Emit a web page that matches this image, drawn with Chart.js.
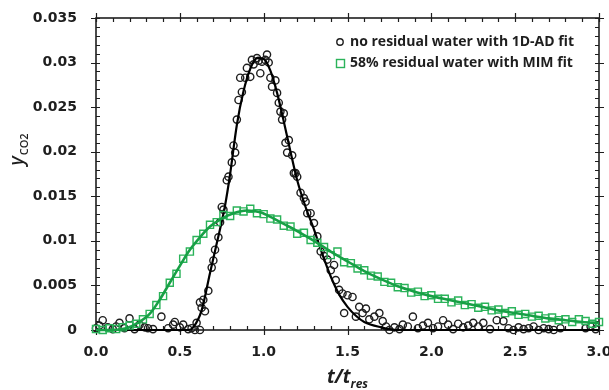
<!DOCTYPE html>
<html>
<head>
<meta charset="utf-8">
<script src="https://cdn.jsdelivr.net/npm/chart.js@4/dist/chart.umd.min.js"></script>
<style>
  html, body { margin: 0; padding: 0; background: #fff; }
  #wrap { width: 609px; height: 390px; }
</style>
</head>
<body>
<div id="wrap"><canvas id="chart" width="609" height="390"></canvas></div>
<script>
// ticks
var xTicks = [0, 0.5, 1.0, 1.5, 2.0, 2.5, 3.0];
var yTicks = [0, 0.005, 0.01, 0.015, 0.02, 0.025, 0.03, 0.035];

// no residual water, measured points (black circles)
var dryT = [0.00, 0.02, 0.04, 0.07, 0.10, 0.12, 0.14, 0.17, 0.20, 0.23, 0.26, 0.29, 0.31, 0.34, 0.39, 0.43,
  0.46, 0.47, 0.50, 0.52, 0.55, 0.57, 0.59, 0.60, 0.62, 0.62, 0.63, 0.64, 0.65, 0.67, 0.69, 0.70, 0.71,
  0.73, 0.74, 0.75, 0.76, 0.78, 0.79, 0.81, 0.82, 0.83, 0.84, 0.85, 0.86, 0.87, 0.89, 0.90, 0.92, 0.93,
  0.94, 0.96, 0.97, 0.98, 0.99, 1.01, 1.02, 1.03, 1.04, 1.05, 1.07, 1.08, 1.09, 1.10, 1.11, 1.12, 1.13,
  1.14, 1.15, 1.17, 1.18, 1.19, 1.20, 1.22, 1.24, 1.25, 1.26, 1.28, 1.30, 1.32, 1.34, 1.36, 1.38, 1.40,
  1.42, 1.43, 1.45, 1.47, 1.48, 1.50, 1.53, 1.55, 1.57, 1.59, 1.61, 1.63, 1.66, 1.69, 1.71, 1.73, 1.75,
  1.78, 1.81, 1.83, 1.86, 1.89, 1.92, 1.95, 1.98, 2.01, 2.04, 2.07, 2.10, 2.13, 2.16, 2.19, 2.22, 2.25,
  2.28, 2.31, 2.35, 2.39, 2.43, 2.46, 2.49, 2.52, 2.55, 2.58, 2.61, 2.64, 2.67, 2.70, 2.73, 2.77, 2.92,
  2.95, 2.98];
var dryY = [0.0002, 0.0005, 0.0011, 0.0003, 0.0001, 0.0004, 0.0008, 0.0002, 0.0013, 0.0001, 0.0006, 0.0003,
  0.0002, 0.0001, 0.0015, 0.0002, 0.0006, 0.0009, 0.0003, 0.0006, 0.0001, 0.0002, 0.0000, 0.0008, 0.0000,
  0.0031, 0.0025, 0.0034, 0.0021, 0.0044, 0.0070, 0.0078, 0.0090, 0.0104, 0.0121, 0.0138, 0.0135, 0.0168,
  0.0172, 0.0188, 0.0207, 0.0199, 0.0236, 0.0258, 0.0283, 0.0267, 0.0283, 0.0294, 0.0284, 0.0303, 0.0298,
  0.0305, 0.0302, 0.0288, 0.0301, 0.0303, 0.0309, 0.0300, 0.0283, 0.0273, 0.0280, 0.0266, 0.0255, 0.0245,
  0.0236, 0.0243, 0.0210, 0.0199, 0.0213, 0.0196, 0.0176, 0.0176, 0.0172, 0.0154, 0.0148, 0.0144, 0.0131,
  0.0131, 0.0120, 0.0105, 0.0088, 0.0083, 0.0079, 0.0067, 0.0073, 0.0056, 0.0045, 0.0041, 0.0019, 0.0039,
  0.0037, 0.0015, 0.0026, 0.0019, 0.0024, 0.0012, 0.0015, 0.0019, 0.0010, 0.0004, 0.0000, 0.0003, 0.0001,
  0.0006, 0.0004, 0.0015, 0.0002, 0.0005, 0.0008, 0.0002, 0.0004, 0.0011, 0.0006, 0.0001, 0.0007, 0.0003,
  0.0005, 0.0008, 0.0004, 0.0008, 0.0001, 0.0011, 0.0010, 0.0002, 0.0000, 0.0003, 0.0001, 0.0002, 0.0004,
  0.0000, 0.0002, 0.0001, 0.0000, 0.0002, 0.0002, 0.0004, 0.0001];

// 1D-AD fit (black line)
var adT = [0.00, 0.50, 0.55, 0.58, 0.63, 0.68, 0.72, 0.77, 0.80, 0.84, 0.88, 0.92, 0.96, 1.00, 1.04, 1.08,
  1.12, 1.16, 1.20, 1.25, 1.30, 1.35, 1.40, 1.45, 1.50, 1.55, 1.60, 1.70, 1.80, 3.00];
var adY = [0, 0, 0.0000, 0.0003, 0.0022, 0.0064, 0.0097, 0.0140, 0.0175, 0.0230, 0.0268, 0.0293, 0.0305,
  0.0304, 0.0291, 0.0266, 0.0234, 0.0200, 0.0168, 0.0138, 0.0113, 0.0085, 0.0060, 0.0040, 0.0026, 0.0016,
  0.0009, 0.0003, 0.0000, 0];

// 58% residual water, measured points (green squares)
var wetT = [0.00, 0.04, 0.08, 0.12, 0.16, 0.20, 0.24, 0.28, 0.32, 0.36, 0.40, 0.44, 0.48, 0.52, 0.56, 0.60,
  0.64, 0.68, 0.72, 0.76, 0.80, 0.84, 0.88, 0.92, 0.96, 1.00, 1.04, 1.08, 1.12, 1.16, 1.20, 1.24, 1.28,
  1.32, 1.36, 1.40, 1.44, 1.48, 1.52, 1.56, 1.60, 1.64, 1.68, 1.72, 1.76, 1.80, 1.84, 1.88, 1.92, 1.96,
  2.00, 2.04, 2.08, 2.12, 2.16, 2.20, 2.24, 2.28, 2.32, 2.36, 2.40, 2.44, 2.48, 2.52, 2.56, 2.60, 2.64,
  2.68, 2.72, 2.76, 2.80, 2.84, 2.88, 2.92, 2.96, 3.00];
var wetY = [0.0001, 0.0000, 0.0002, 0.0001, 0.0003, 0.0005, 0.0007, 0.0012, 0.0018, 0.0028, 0.0038, 0.0053,
  0.0063, 0.0080, 0.0088, 0.0101, 0.0108, 0.0118, 0.0121, 0.0129, 0.0128, 0.0134, 0.0133, 0.0136, 0.0131,
  0.0130, 0.0125, 0.0124, 0.0117, 0.0116, 0.0108, 0.0109, 0.0101, 0.0098, 0.0093, 0.0084, 0.0088, 0.0076,
  0.0075, 0.0069, 0.0067, 0.0061, 0.0060, 0.0054, 0.0053, 0.0048, 0.0047, 0.0042, 0.0043, 0.0038, 0.0039,
  0.0035, 0.0035, 0.0031, 0.0033, 0.0028, 0.0029, 0.0025, 0.0026, 0.0022, 0.0023, 0.0019, 0.0021, 0.0017,
  0.0018, 0.0015, 0.0016, 0.0013, 0.0014, 0.0011, 0.0012, 0.0009, 0.0012, 0.0010, 0.0007, 0.0009];

// MIM fit (green line)
var mimT = [0.00, 0.10, 0.18, 0.25, 0.32, 0.38, 0.44, 0.50, 0.56, 0.62, 0.68, 0.75, 0.82, 0.90, 0.98, 1.05,
  1.12, 1.20, 1.30, 1.40, 1.50, 1.60, 1.70, 1.80, 1.90, 2.00, 2.10, 2.20, 2.30, 2.40, 2.50, 2.60, 2.70,
  2.80, 2.90, 3.00];
var mimY = [0.0000, 0.0000, 0.0002, 0.0008, 0.0018, 0.0034, 0.0053, 0.0072, 0.0090, 0.0104, 0.0116, 0.0125,
  0.0131, 0.0134, 0.0132, 0.0126, 0.0119, 0.0111, 0.0100, 0.0088, 0.0077, 0.0066, 0.0057, 0.0049, 0.0043,
  0.0038, 0.0034, 0.0030, 0.0026, 0.0022, 0.0019, 0.0016, 0.0013, 0.0011, 0.0009, 0.0008];

var labelDry = 'no residual water with 1D-AD fit';
var labelWet = '58% residual water with MIM fit';

var INK = '#1e1e1e';
var GREEN_LINE = '#17a045';
var GREEN_PT = '#2bb35a';

function pts(xs, ys) {
  return xs.map(function (x, i) { return {x: x, y: ys[i]}; });
}

// box with crossing major ticks and inward minor ticks
var frame = {
  id: 'frame',
  beforeDatasetsDraw: function (chart) {
    var ctx = chart.ctx, a = chart.chartArea;
    var xs = chart.scales.x, ys = chart.scales.y;
    ctx.save();
    ctx.strokeStyle = INK;
    ctx.lineWidth = 1.6;
    ctx.strokeRect(a.left, a.top, a.right - a.left, a.bottom - a.top);
    ctx.lineWidth = 1.2;
    ctx.beginPath();
    for (var i = 0; i <= 30; i++) {
      var px = Math.round(xs.getPixelForValue(i / 10)) + 0.5;
      var out = (i % 5 == 0) ? 5 : 0;
      ctx.moveTo(px, a.bottom - 4); ctx.lineTo(px, a.bottom + out);
      ctx.moveTo(px, a.top + 4); ctx.lineTo(px, a.top - out);
    }
    for (var j = 0; j <= 35; j++) {
      var py = Math.round(ys.getPixelForValue(j / 1000)) + 0.5;
      var o = (j % 5 == 0) ? 5 : 0;
      ctx.moveTo(a.left + 4, py); ctx.lineTo(a.left - o, py);
      ctx.moveTo(a.right - 4, py); ctx.lineTo(a.right + o, py);
    }
    ctx.stroke();
    ctx.restore();
  },
  afterDraw: function (chart) {
    var ctx = chart.ctx, a = chart.chartArea;
    ctx.save();
    ctx.fillStyle = INK;

    // x title t/t_res
    var cx = (a.left + a.right) / 2;
    ctx.font = 'italic bold 19px "Open Sans"';
    var w1 = ctx.measureText('t/t').width;
    ctx.font = 'italic bold 12px "Open Sans"';
    var w2 = ctx.measureText('res').width;
    var x0 = cx - (w1 + w2) / 2;
    ctx.textBaseline = 'alphabetic';
    ctx.font = 'italic bold 19px "Open Sans"';
    ctx.fillText('t/t', x0, 383);
    ctx.font = 'italic bold 12px "Open Sans"';
    ctx.fillText('res', x0 + w1, 388);

    // y title y_CO2
    ctx.translate(23, 150);
    ctx.rotate(-Math.PI / 2);
    ctx.font = 'italic 600 19px "Open Sans"';
    var wy = ctx.measureText('y').width;
    ctx.font = '600 11px "Open Sans"';
    var ws = ctx.measureText('CO2').width;
    ctx.font = 'italic 600 19px "Open Sans"';
    ctx.fillText('y', -(wy + ws) / 2, 0);
    ctx.font = '600 11px "Open Sans"';
    ctx.fillText('CO2', -(wy + ws) / 2 + wy + 1, 5);
    ctx.restore();

    // legend
    ctx.save();
    ctx.font = 'bold 14px "Open Sans"';
    ctx.fillStyle = INK;
    ctx.textBaseline = 'middle';
    ctx.fillText(labelDry, 350, 42);
    ctx.fillText(labelWet, 350, 63);
    ctx.lineWidth = 1.4;
    ctx.strokeStyle = INK;
    ctx.beginPath(); ctx.arc(340, 42, 3.2, 0, Math.PI * 2); ctx.stroke();
    ctx.strokeStyle = GREEN_PT;
    ctx.strokeRect(336.5, 59.5, 8, 8);
    ctx.restore();
  }
};

new Chart(document.getElementById('chart'), {
  type: 'scatter',
  data: {
    datasets: [
      {
        label: labelWet + ' (fit)', data: pts(mimT, mimY), showLine: true,
        borderColor: GREEN_LINE, borderWidth: 2.6, pointRadius: 0,
        cubicInterpolationMode: 'monotone', order: 1, clip: 4
      },
      {
        label: labelWet, data: pts(wetT, wetY), pointStyle: 'rect', pointRadius: 5,
        borderColor: GREEN_PT, borderWidth: 1.4, backgroundColor: 'rgba(0,0,0,0)', order: 2, clip: 8
      },
      {
        label: labelDry + ' (fit)', data: pts(adT, adY), showLine: true,
        borderColor: '#000', borderWidth: 2.2, pointRadius: 0,
        cubicInterpolationMode: 'monotone', order: 3, clip: 4
      },
      {
        label: labelDry, data: pts(dryT, dryY), pointStyle: 'circle', pointRadius: 3.6,
        borderColor: INK, borderWidth: 1.4, backgroundColor: 'rgba(0,0,0,0)', order: 4, clip: 8
      }
    ]
  },
  options: {
    responsive: false,
    animation: false,
    events: [],
    layout: { padding: { top: 18, right: 10, left: 0, bottom: 0 } },
    plugins: { legend: { display: false }, tooltip: { enabled: false } },
    scales: {
      x: {
        type: 'linear', min: 0, max: 3,
        afterBuildTicks: function (s) { s.ticks = xTicks.map(function (v) { return {value: v}; }); },
        afterFit: function (s) { s.height = 60; s.paddingLeft = 0; s.paddingRight = 0; },
        grid: { display: false, drawTicks: false },
        border: { display: false },
        ticks: {
          padding: 14, color: INK, maxRotation: 0,
          font: { family: 'DejaVu Sans', weight: 'bold', size: 14 },
          callback: function (v) { return Number(v).toFixed(1); }
        }
      },
      y: {
        type: 'linear', min: 0, max: 0.035,
        afterBuildTicks: function (s) { s.ticks = yTicks.map(function (v) { return {value: v}; }); },
        afterFit: function (s) { s.width = 96; s.paddingTop = 0; s.paddingBottom = 0; },
        grid: { display: false, drawTicks: false },
        border: { display: false },
        ticks: {
          padding: 19, color: INK,
          font: { family: 'DejaVu Sans', weight: 'bold', size: 14 },
          callback: function (v) { return v == 0 ? '0' : String(Number(Number(v).toFixed(3))); }
        }
      }
    }
  },
  plugins: [frame]
});
</script>
</body>
</html>
